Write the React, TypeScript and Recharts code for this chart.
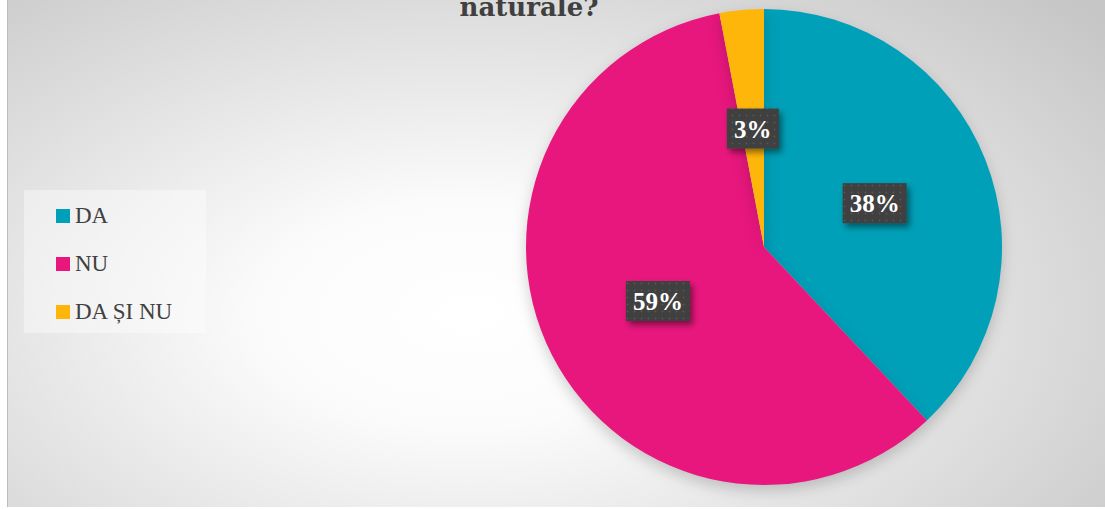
import { PieChart, Pie, Cell, Legend } from 'recharts'

const categories = ['DA', 'NU', 'DA ȘI NU']
const shares = [38, 59, 3]
const colors = ['#00A0B8', '#E8177D', '#FFB60A']

const data = categories.map((name, i) => ({ name, value: shares[i] }))

const RAD = Math.PI / 180

function PctLabel(props: any) {
  const { cx, cy, midAngle, outerRadius, percent, index } = props
  const r = outerRadius * 0.5
  const x = cx + r * Math.cos(-midAngle * RAD)
  const y = cy + r * Math.sin(-midAngle * RAD)
  const text = `${Math.round(percent * 100)}%`
  const w = 16 + 24 * ((text.length - 1) * 0.5 + 1)
  const h = 40
  const pid = `dots-${index}`
  const fid = `shd-${index}`
  return (
    <g>
      <defs>
        <pattern id={pid} width={7} height={7} patternUnits="userSpaceOnUse">
          <rect width={7} height={7} fill="#3f3f3f" />
          <circle cx={3.5} cy={3.5} r={1} fill="#575757" />
        </pattern>
        <filter id={fid} x="-30%" y="-30%" width="160%" height="170%">
          <feDropShadow dx={3} dy={4} stdDeviation={3} floodColor="#000" floodOpacity={0.45} />
        </filter>
      </defs>
      <rect x={x - w / 2} y={y - h / 2} width={w} height={h} fill={`url(#${pid})`} filter={`url(#${fid})`} />
      <text
        x={x}
        y={y + 9}
        textAnchor="middle"
        fill="#ffffff"
        fontFamily="'Liberation Serif', serif"
        fontWeight="bold"
        fontSize={25}
      >
        {text}
      </text>
    </g>
  )
}

function LegendBox() {
  return (
    <div
      style={{
        width: 182,
        height: 143,
        background: 'rgba(255,255,255,0.4)',
        boxSizing: 'border-box',
        paddingTop: 2,
      }}
    >
      {categories.map((c, i) => (
        <div key={c} style={{ display: 'flex', alignItems: 'center', height: 48, marginLeft: 32 }}>
          <span style={{ width: 14, height: 14, background: colors[i], marginRight: 5, display: 'inline-block' }} />
          <span style={{ fontFamily: "'Liberation Serif', serif", fontSize: 23, color: '#404040' }}>{c}</span>
        </div>
      ))}
    </div>
  )
}

export default function App() {
  return (
    <div
      style={{
        position: 'absolute',
        left: 7,
        top: 0,
        width: 1098,
        height: 507,
        overflow: 'hidden',
        background: 'radial-gradient(ellipse 75% 90% at 42% 62%, #ffffff 0%, #fbfbfb 25%, #e2e2e2 60%, #c6c6c6 100%)',
        borderLeft: '1px solid #bdbdbd',
        boxSizing: 'border-box',
      }}
    >
      <div
        style={{
          position: 'absolute',
          left: 380,
          width: 282,
          top: -7,
          lineHeight: '28px',
          textAlign: 'center',
          fontFamily: "'DejaVu Serif', serif",
          fontWeight: 'bold',
          fontSize: 26,
          color: '#404040',
        }}
      >
        naturale?
      </div>
      <PieChart width={1097} height={507}>
        <Pie
          data={data}
          dataKey="value"
          nameKey="name"
          cx={751}
          cy={242}
          outerRadius={238}
          startAngle={90}
          endAngle={-270}
          stroke="none"
          label={PctLabel}
          labelLine={false}
          isAnimationActive={false}
        >
          {data.map((d, i) => (
            <Cell key={d.name} fill={colors[i]} style={{ filter: 'drop-shadow(0px 6px 7px rgba(0,0,0,0.18))' }} />
          ))}
        </Pie>
        <Legend
          layout="horizontal"
          verticalAlign="middle"
          align="center"
          content={() => <LegendBox />}
          wrapperStyle={{ left: 16, top: 190, width: 182, height: 143 }}
        />
      </PieChart>
    </div>
  )
}
